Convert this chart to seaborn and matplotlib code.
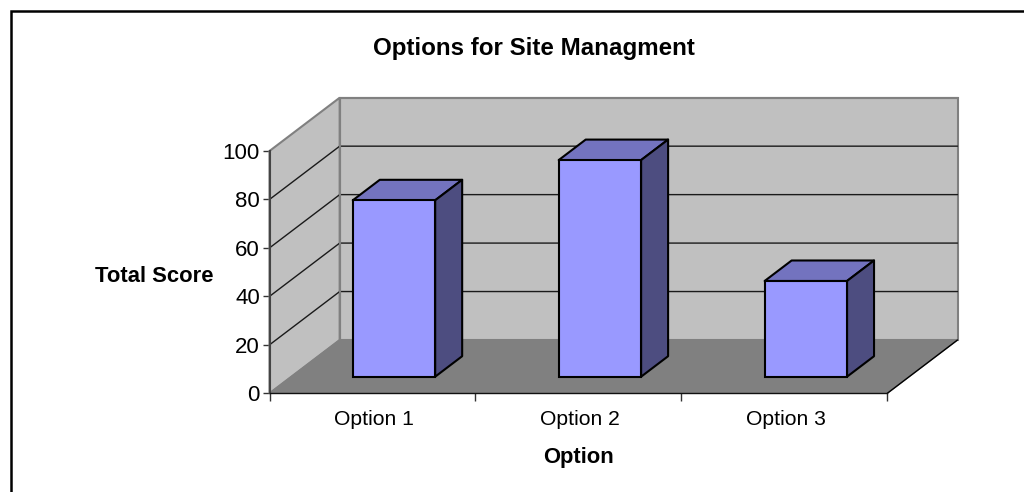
import numpy as np
import pandas as pd
import matplotlib
matplotlib.use("Agg")
import matplotlib.pyplot as plt
import seaborn as sns
from matplotlib.lines import Line2D
from matplotlib.patches import Polygon

options = ["Option 1", "Option 2", "Option 3"]
scores = [72.8, 89.4, 39.5]
y_ticks = [0, 20, 40, 60, 80, 100]
title = "Options for Site Managment"
x_label = "Option"
y_label = "Total Score"

W, H = 1024, 492
sns.set_theme(style="white")
plt.rcParams["font.family"] = ["Liberation Sans", "DejaVu Sans"]

fig = plt.figure(figsize=(W / 100, H / 100), dpi=100, facecolor="white")

def px_axes(left, top, right, bottom):
    return fig.add_axes([left / W, 1 - bottom / H, (right - left) / W, (bottom - top) / H])

# front plane of the 3-D box
L, R, T, B = 269.5, 887.3, 151.0, 393.3
ax = px_axes(L, T, R, B)
ax.set_xlim(-0.5, 2.5)
ax.set_ylim(0, 100)
ux = (R - L) / 3      # px per category
uy = (B - T) / 100    # px per score unit
wall_dx, wall_dy = 70.2 / ux, 53.3 / uy
depth_dx, depth_dy = 27 / ux, 20.5 / uy
shift_x, shift_y = 21.5, 16.6

x0, x1 = -0.5, 2.5
kw = dict(clip_on=False, zorder=1)
# side wall, back wall, floor
ax.add_patch(Polygon([(x0, 0), (x0 + wall_dx, wall_dy), (x0 + wall_dx, 100 + wall_dy), (x0, 100)],
                     fc="#C0C0C0", ec="#808080", lw=1.5, **kw))
ax.add_patch(Polygon([(x0 + wall_dx, wall_dy), (x1 + wall_dx, wall_dy), (x1 + wall_dx, 100 + wall_dy),
                      (x0 + wall_dx, 100 + wall_dy)], fc="#C0C0C0", ec="#808080", lw=1.5, **kw))
ax.add_patch(Polygon([(x0, 0), (x1, 0), (x1 + wall_dx, wall_dy), (x0 + wall_dx, wall_dy)],
                     fc="#808080", ec="#808080", lw=1, **kw))
# floor front-right edge
ax.plot([x1, x1 + wall_dx], [0, wall_dy], color="black", lw=1, clip_on=False, zorder=2)
# gridlines
for t in y_ticks[1:-1] + [100]:
    if t == 100:
        ax.plot([x0 + wall_dx, x1 + wall_dx], [t + wall_dy] * 2, color="#808080", lw=1.5, clip_on=False, zorder=2)
        continue
    ax.plot([x0, x0 + wall_dx, x1 + wall_dx], [t, t + wall_dy, t + wall_dy],
            color="#1a1a1a", lw=1, clip_on=False, zorder=2)
ax.plot([x0 + wall_dx] * 2, [wall_dy, 100 + wall_dy], color="#808080", lw=1.5, clip_on=False, zorder=2)

ax.patch.set_visible(False)
ax.set_xticks([-0.5, 0.5, 1.5, 2.5])
ax.set_xticklabels([])
ax.set_xticks([0.007, 1.007, 2.007], minor=True)
ax.set_xticklabels(options, minor=True, fontsize=15.2, color="black")
ax.tick_params(axis="x", which="major", length=6, width=1, color="#333333", bottom=True)
ax.tick_params(axis="x", which="minor", length=0, pad=12)
ax.set_yticks(y_ticks)
ax.set_yticklabels([str(t) for t in y_ticks], fontsize=16, color="black")
ax.tick_params(axis="y", length=5, width=1, color="#333333", left=True, pad=2)
for s in ["top", "right"]:
    ax.spines[s].set_visible(False)
ax.spines["left"].set_color("#444444")
ax.spines["left"].set_linewidth(1.5)
ax.spines["bottom"].set_color("#111111")
ax.spines["bottom"].set_linewidth(1)
ax.spines["left"].set_zorder(3)
ax.spines["bottom"].set_zorder(3)

# bars on a plane shifted into the depth of the box
bx = px_axes(L + shift_x, T - shift_y, R + shift_x, B - shift_y)
bx.patch.set_visible(False)
df = pd.DataFrame({"option": options, "score": scores})
sns.barplot(data=df, x="option", y="score", ax=bx, color="#9999FF", saturation=1,
            width=82.4 / ux, edgecolor="black", linewidth=1.5, zorder=5)
bx.set_xlim(-0.5, 2.5)
bx.set_ylim(0, 100)
bx.axis("off")
for bar in bx.patches:
    bar.set_clip_on(False)
for i, v in enumerate(scores):
    a, b = i - 41.2 / ux, i + 41.2 / ux
    bx.add_patch(Polygon([(a, v), (b, v), (b + depth_dx, v + depth_dy), (a + depth_dx, v + depth_dy)],
                         fc="#7373BF", ec="black", lw=1.5, clip_on=False, zorder=4, joinstyle="round"))
    bx.add_patch(Polygon([(b, 0), (b + depth_dx, depth_dy), (b + depth_dx, v + depth_dy), (b, v)],
                         fc="#4D4D80", ec="black", lw=1.5, clip_on=False, zorder=4, joinstyle="round"))

# labels
fig.text(534 / W, 1 - 48.5 / H, title, ha="center", va="center", fontsize=17.4, fontweight="bold", color="black")
fig.text(154 / W, 1 - 276 / H, y_label, ha="center", va="center", fontsize=15.8, fontweight="bold", color="black")
fig.text(578 / W, 1 - 458 / H, x_label, ha="center", va="center", fontsize=15.8, fontweight="bold", color="black")

# chart-area frame: only the top and left edges are inside the picture
fig.add_artist(Line2D([10.5 / W, 10.5 / W, 1], [0, 1 - 10.5 / H, 1 - 10.5 / H],
                      transform=fig.transFigure, color="black", lw=1.8, solid_joinstyle="miter"))

fig.savefig("out.png", dpi=100)
